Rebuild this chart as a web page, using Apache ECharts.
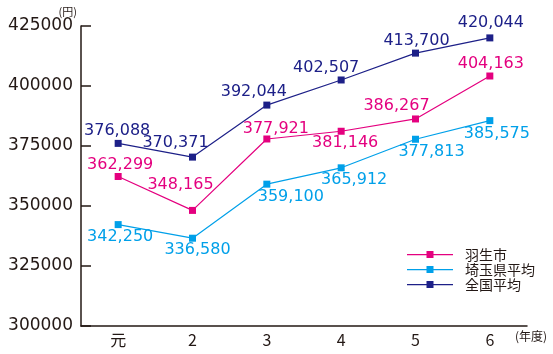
<!DOCTYPE html>
<html lang="ja">
<head>
    <meta charset="UTF-8">
    <title>平均所得</title>
    <script src="https://cdn.jsdelivr.net/npm/echarts@6/dist/echarts.min.js"></script>
    <style>
        html, body { margin: 0; padding: 0; background: #fff; }
        #chart1 { width: 553px; height: 354px; }
    </style>
</head>
<body>
<div id="chart1"></div>
<script type="text/javascript">

    // 年度
    var years = ['元', '2', '3', '4', '5', '6'];
    var yTicks = [300000, 325000, 350000, 375000, 400000, 425000];

    var hanyu = [362299, 348165, 377921, 381146, 386267, 404163];
    var saitama = [342250, 336580, 359100, 365912, 377813, 385575];
    var zenkoku = [376088, 370371, 392044, 402507, 413700, 420044];

    // ラベルの位置調整 (点からのずれ)
    var hanyuOff = [[2, -12], [-12, -26], [9, -10], [4, 12], [-19, -13], [1, -12]];
    var saitamaOff = [[2, 12], [5, 12], [24, 13], [13, 12], [16, 13], [7, 13]];
    var zenkokuOff = [[-1, -13], [-17, -14], [-13, -13], [-15, -12], [1, -12], [1, -15]];

    var dark = '#231815';
    var font = 'DejaVu Sans';
    var cjk = 'Noto Sans CJK JP';

    // 凡例のアイコン: 線 + 小さい四角
    var legendIcon = 'path://M0,3 L46,3 L46,4.2 L0,4.2 Z M19.5,0 L26.5,0 L26.5,7 L19.5,7 Z';

    function withLabels(values, offs) {
        return values.map(function (v, i) {
            return { value: v, label: { offset: offs[i] } };
        });
    }

    function makeSeries(name, color, values, offs) {
        return {
            name: name,
            type: 'line',
            symbol: 'rect',
            symbolSize: 7,
            color: color,
            lineStyle: { width: 1.2, color: color },
            itemStyle: { color: color },
            label: {
                show: true,
                position: 'inside',
                align: 'center',
                verticalAlign: 'middle',
                color: color,
                fontFamily: font,
                fontSize: 16,
                formatter: function (p) {
                    return p.value.toLocaleString('en-US');
                }
            },
            data: withLabels(values, offs)
        };
    }

    var myChart1 = echarts.init(document.getElementById('chart1'));
    myChart1.setOption({
        animation: false,
        grid: { left: 81, right: 26, top: 26, bottom: 28 },
        legend: {
            orient: 'vertical',
            left: 407,
            top: 247,
            padding: 0,
            icon: legendIcon,
            itemWidth: 46,
            itemHeight: 7,
            itemGap: 0,
            textStyle: { fontSize: 14, lineHeight: 15, color: dark, fontFamily: cjk, padding: [0, 0, 0, 7] },
            data: ['羽生市', '埼玉県平均', '全国平均']
        },
        xAxis: {
            type: 'category',
            data: years,
            boundaryGap: true,
            name: '(年度)',
            nameLocation: 'end',
            nameGap: -12,
            nameTextStyle: { fontSize: 12, color: dark, fontFamily: cjk, align: 'left', verticalAlign: 'top', padding: [4, 0, 0, 0] },
            axisLine: { lineStyle: { color: dark, width: 1.5 } },
            axisTick: { inside: true, length: 7, lineStyle: { color: dark, width: 1.5 } },
            axisLabel: { fontSize: 16, color: dark, fontFamily: cjk, margin: 6 },
            splitLine: { show: false }
        },
        yAxis: {
            type: 'value',
            min: yTicks[0],
            max: yTicks[yTicks.length - 1],
            interval: 25000,
            name: '(円)',
            nameLocation: 'end',
            nameGap: 6,
            nameTextStyle: { fontSize: 11, color: dark, fontFamily: cjk, align: 'right', padding: [0, 4, 0, 0] },
            axisLine: { show: true, lineStyle: { color: dark, width: 1.5 } },
            axisTick: { show: true, inside: true, length: 10, lineStyle: { color: dark, width: 1.5 } },
            axisLabel: {
                fontSize: 17, color: dark, fontFamily: font, margin: 8,
                formatter: function (v) { return String(v); }
            },
            splitLine: { show: false }
        },
        series: [
            makeSeries('羽生市', '#e4007f', hanyu, hanyuOff),
            makeSeries('埼玉県平均', '#00a0e9', saitama, saitamaOff),
            makeSeries('全国平均', '#1d2088', zenkoku, zenkokuOff)
        ]
    });

</script>
</body>
</html>
